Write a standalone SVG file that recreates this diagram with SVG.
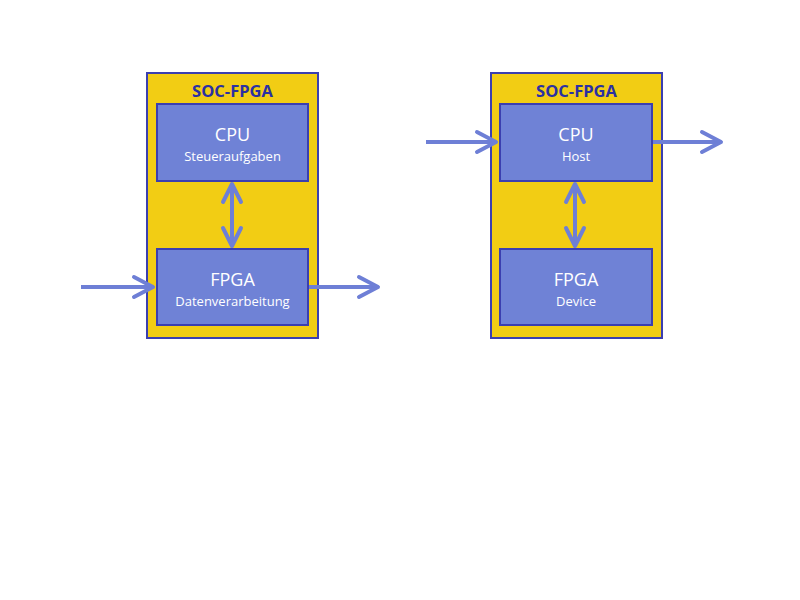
<svg xmlns="http://www.w3.org/2000/svg" width="800" height="600" viewBox="0 0 800 600">
<defs>
<style>
.outer{fill:#F2CD14;stroke:#3B3FB0;stroke-width:2}
.inner{fill:#6F82D6;stroke:#3B3FB0;stroke-width:2}
.title{font-family:"Open Sans","Liberation Sans",sans-serif;font-weight:bold;font-size:16.5px;fill:#2B30A3;text-anchor:middle}
.main{font-family:"Open Sans","Liberation Sans",sans-serif;font-size:18px;fill:#FFFFFF;text-anchor:middle}
.sub{font-family:"Open Sans","Liberation Sans",sans-serif;font-size:13px;fill:#FFFFFF;text-anchor:middle}
.conn{stroke:#6E7FD6;stroke-width:4;fill:none}
.head{stroke:#6E7FD6;stroke-width:4;fill:none;stroke-linecap:round;stroke-linejoin:round}
</style>
</defs>
<rect width="800" height="600" fill="#FFFFFF"/>
<g id="soc-left">
<rect class="outer" x="147" y="73" width="171" height="265"/>
<text class="title" x="232.5" y="97">SOC-FPGA</text>
</g>
<g id="cpu-left">
<rect class="inner" x="157" y="104" width="151" height="77"/>
<text class="main" x="232.5" y="141">CPU</text>
<text class="sub" x="232.5" y="161">Steueraufgaben</text>
</g>
<g id="fpga-left">
<rect class="inner" x="157" y="249" width="151" height="76"/>
<text class="main" x="232.5" y="286">FPGA</text>
<text class="sub" x="232.5" y="306">Datenverarbeitung</text>
</g>
<g id="soc-right">
<rect class="outer" x="491" y="73" width="171" height="265"/>
<text class="title" x="576.5" y="97">SOC-FPGA</text>
</g>
<g id="cpu-right">
<rect class="inner" x="500" y="104" width="152" height="77"/>
<text class="main" x="576" y="141">CPU</text>
<text class="sub" x="576" y="161">Host</text>
</g>
<g id="fpga-right">
<rect class="inner" x="500" y="249" width="152" height="76"/>
<text class="main" x="576" y="286">FPGA</text>
<text class="sub" x="576" y="306">Device</text>
</g>
<g id="connectors">
<line class="conn" x1="81" y1="287" x2="153" y2="287"/>
<polyline class="head" points="134,277 153,287 134,297"/>
<line class="conn" x1="309" y1="287" x2="378" y2="287"/>
<polyline class="head" points="359,277 378,287 359,297"/>
<line class="conn" x1="232" y1="185" x2="232" y2="245"/>
<polyline class="head" points="223,202 232,184 241,202"/>
<polyline class="head" points="223,228 232,246 241,228"/>
<line class="conn" x1="426" y1="142" x2="496" y2="142"/>
<polyline class="head" points="477,132 496,142 477,152"/>
<line class="conn" x1="653" y1="142" x2="721" y2="142"/>
<polyline class="head" points="702,132 721,142 702,152"/>
<line class="conn" x1="575" y1="185" x2="575" y2="245"/>
<polyline class="head" points="566,202 575,184 584,202"/>
<polyline class="head" points="566,228 575,246 584,228"/>
</g>
</svg>
